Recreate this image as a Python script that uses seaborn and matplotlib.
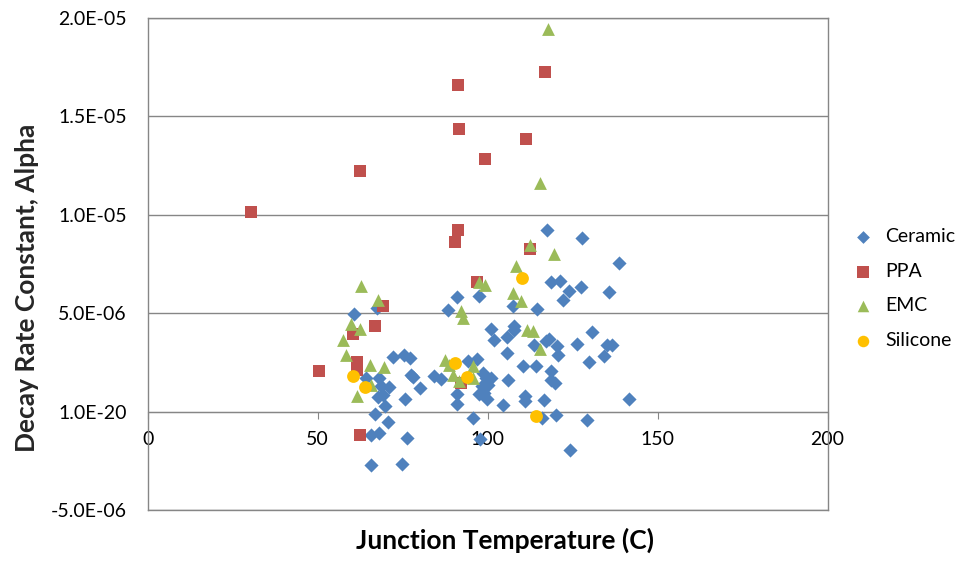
# Scatter of decay rate constant vs junction temperature, by package material
import pandas as pd
import matplotlib
matplotlib.use("Agg")
import matplotlib.pyplot as plt
import seaborn as sns

# ------------------------------------------------------------------
# Data
# ------------------------------------------------------------------

# Ceramic series
ceramic_temp = [117.5, 127.8, 138.5, 118.6, 121.2, 124.0, 127.5, 135.7, 122.1, 90.9,
                97.6, 88.2, 107.4, 114.5, 60.8, 67.4, 101.1, 107.7, 107.8, 102.0,
                105.6, 117.1, 118.1, 113.7, 120.3, 120.7, 126.3, 130.7, 135.0, 136.6,
                134.2, 129.7, 105.8, 72.2, 75.4, 77.3, 94.3, 96.9, 110.3, 114.2,
                106.1, 118.7, 118.7, 119.9, 77.5, 77.9, 84.2, 86.4, 80.2, 98.6,
                99.5, 100.9, 100.2, 98.2, 98.9, 99.8, 97.6, 91.1, 91.1, 104.5,
                111.0, 111.0, 116.5, 141.6, 64.3, 68.0, 68.7, 70.9, 69.3, 67.6,
                69.7, 75.8, 66.8, 70.6, 65.7, 68.0, 76.3, 65.8, 74.7, 95.7,
                97.8, 115.9, 120.0, 129.1, 124.2]
ceramic_alpha = [9.25, 8.81, 7.53, 6.58, 6.63, 6.12, 6.34, 6.07, 5.69, 5.83,
                 5.86, 5.14, 5.36, 5.22, 4.98, 5.27, 4.22, 4.34, 4.14, 3.66,
                 3.78, 3.58, 3.69, 3.37, 3.32, 2.90, 3.46, 4.05, 3.37, 3.37,
                 2.81, 2.51, 2.98, 2.76, 2.90, 2.73, 2.56, 2.69, 2.31, 2.34,
                 1.63, 2.05, 1.63, 1.46, 1.85, 1.75, 1.83, 1.68, 1.19, 1.97,
                 1.71, 1.71, 1.37, 1.29, 0.95, 0.64, 0.90, 0.92, 0.41, 0.36,
                 0.81, 0.53, 0.61, 0.64, 1.71, 1.71, 1.29, 1.24, 0.86, 0.73,
                 0.31, 0.64, -0.12, -0.53, -1.17, -1.08, -1.34, -2.69, -2.66, -0.32,
                 -1.39, -0.32, -0.19, -0.44, -1.93]

# PPA series
ppa_temp = [30.5, 62.5, 91.4, 116.9, 91.5, 111.4, 99.1, 91.4, 90.3, 112.5,
            96.9, 69.2, 66.8, 60.5, 61.5, 61.5, 50.3, 62.5, 92.3]
ppa_alpha = [10.15, 12.24, 16.6, 17.27, 14.36, 13.83, 12.86, 9.22, 8.61, 8.24,
             6.58, 5.36, 4.36, 3.95, 2.5, 2.1, 2.05, -1.17, 1.46]

# EMC series
emc_temp = [117.7, 115.4, 112.4, 119.6, 108.3, 97.6, 99.3, 62.8, 107.4, 109.8,
            67.6, 92.3, 92.8, 59.9, 62.4, 57.5, 111.7, 113.3, 58.4, 115.5,
            65.4, 69.4, 87.6, 88.6, 95.6, 89.7, 91.7, 95.6, 65.7, 61.7]
emc_alpha = [19.46, 11.63, 8.46, 8.03, 7.39, 6.58, 6.44, 6.41, 6.03, 5.61,
             5.69, 5.10, 4.76, 4.47, 4.22, 3.63, 4.17, 4.08, 2.90, 3.19,
             2.36, 2.25, 2.61, 2.39, 2.31, 1.88, 1.54, 1.71, 1.37, 0.78]

# Silicone series
silicone_temp = [110.2, 90.3, 94.0, 60.4, 64.0, 114.1]
silicone_alpha = [6.80, 2.47, 1.78, 1.80, 1.24, -0.24]

# Series names and colours (Excel 2007 palette)
series_names = ["Ceramic", "PPA", "EMC", "Silicone"]
series_colors = ["#4F81BD", "#C0504D", "#9BBB59", "#FFC000"]
series_markers = ["D", "s", "^", "o"]
series_sizes = [52, 80, 85, 85]

# Axis ticks and labels
x_ticks = [0, 50, 100, 150, 200]
y_ticks = [-5e-6, 0, 5e-6, 1e-5, 1.5e-5, 2e-5]
y_tick_labels = ["-5.0E-06", "1.0E-20", "5.0E-06", "1.0E-05", "1.5E-05", "2.0E-05"]

# Build one long table, alpha values are in units of 1e-6
frames = []
for name, t, a in zip(series_names,
                      [ceramic_temp, ppa_temp, emc_temp, silicone_temp],
                      [ceramic_alpha, ppa_alpha, emc_alpha, silicone_alpha]):
    frames.append(pd.DataFrame({"temp": t, "alpha": [v * 1e-6 for v in a], "material": name}))
df = pd.concat(frames, ignore_index=True)

# ------------------------------------------------------------------
# Plot
# ------------------------------------------------------------------

sns.set_style("white")
plt.rcParams["font.family"] = ["Lato", "DejaVu Sans"]
plt.rcParams["text.color"] = "black"

fig = plt.figure(figsize=(9.59, 5.63), dpi=100)
ax = fig.add_axes([0.154, 0.094, 0.709, 0.874])

# One scatter call per series so each keeps its own marker and size
for name, color, marker, size in zip(series_names, series_colors, series_markers, series_sizes):
    sub = df[df["material"] == name]
    sns.scatterplot(data=sub, x="temp", y="alpha", color=color, marker=marker,
                    s=size, linewidth=0, label=name, ax=ax, zorder=3)

ax.set_xlim(0, 200)
ax.set_ylim(-5e-6, 2e-5)

# Horizontal grid lines
ax.set_yticks(y_ticks)
ax.set_yticklabels(y_tick_labels)
ax.yaxis.grid(True, color="#868686", linewidth=1)
ax.tick_params(axis="y", direction="out", length=4, color="#868686", labelsize=14,
               labelcolor="black", pad=11)

# Plot area border
for sp in ax.spines.values():
    sp.set_color("#868686")
    sp.set_linewidth(1)

# X axis crosses at y = 0 (axes fraction 0.2)
ax.set_xticks([])
ax.set_xlabel("")
ax.set_ylabel("Decay Rate Constant, Alpha", fontsize=19, fontweight="bold")
ax.yaxis.set_label_coords(-0.16, 0.451)
sec = ax.secondary_xaxis(0.2)
sec.set_xticks(x_ticks)
sec.spines["bottom"].set_color("#868686")
sec.tick_params(axis="x", direction="out", length=5, color="#868686", labelsize=14,
                labelcolor="black", pad=9)

# X label sits under the plot area
fig.text(0.527, 0.025, "Junction Temperature (C)", ha="center", fontsize=19, fontweight="bold")

# Legend on the right, no frame
leg = ax.legend(loc="center left", bbox_to_anchor=(1.0, 0.45), frameon=False,
                fontsize=14, handletextpad=0.15, labelspacing=0.9, borderaxespad=0.4,
                markerscale=0.9)

plt.savefig("out.png", dpi=100)
